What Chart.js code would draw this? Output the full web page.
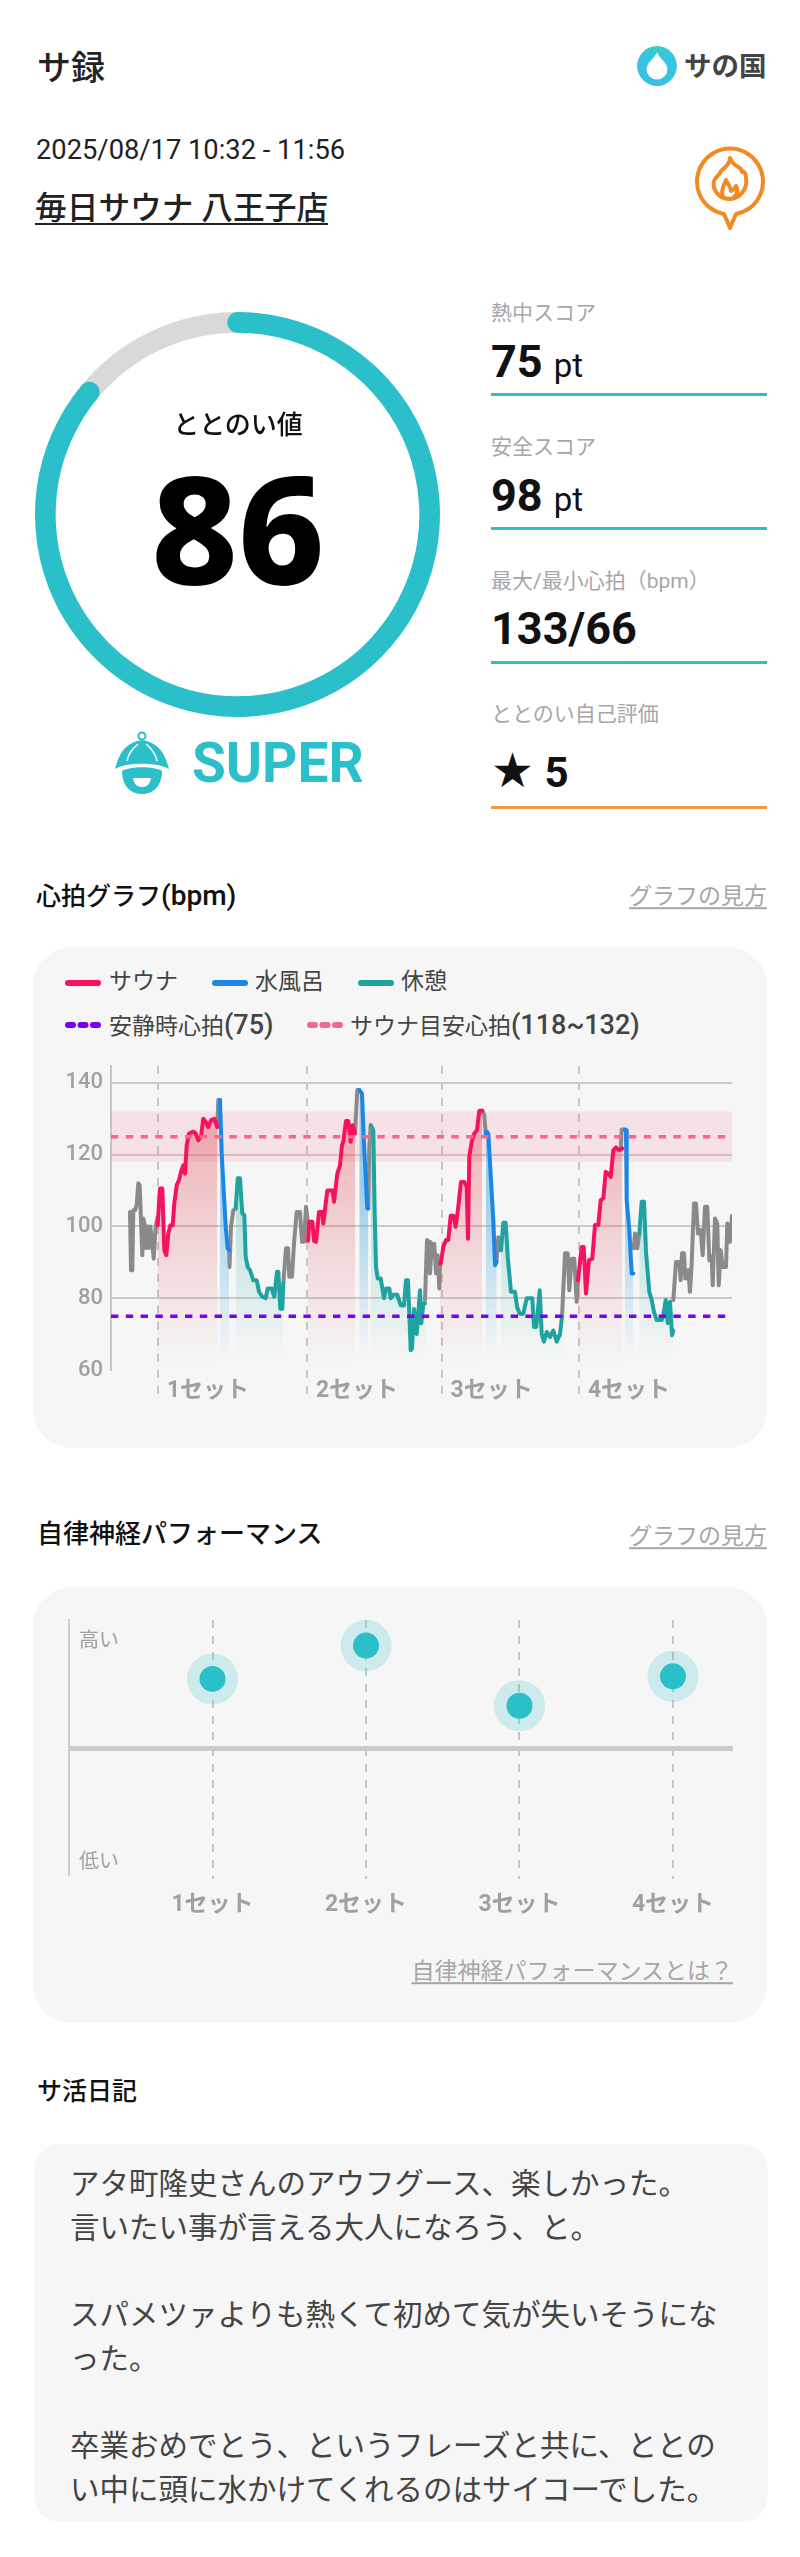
<!DOCTYPE html>
<html lang="ja"><head><meta charset="utf-8">
<script src="https://cdn.jsdelivr.net/npm/chart.js@4"></script>
<style>
html,body{margin:0;padding:0;background:#fff}
body{position:relative;width:800px;height:2557px;overflow:hidden;font-family:Roboto,"Noto Sans CJK JP",sans-serif;color:#222}
.t{position:absolute;white-space:nowrap;transform:translateY(-50%);line-height:1.2}
.g{color:#a6a6a6}
.r{transform:translate(-100%,-50%)}
.c{transform:translate(-50%,-50%)}
.link{color:#a6a6a6;text-decoration:underline;text-underline-offset:3px}
.card{position:absolute;background:#f6f6f6}
.rule{position:absolute;left:491px;width:276px;height:2.5px;background:#2fbdc6}
.sw{position:absolute;height:6px;width:36px;border-radius:3px}
.lat{font-size:27px;font-weight:500}
canvas{position:absolute}
svg{position:absolute;overflow:visible}
</style></head><body>
<div class="t" style="left:37px;top:68px;font-size:34px;font-weight:500">サ録</div>
<svg style="left:635px;top:44px" width="44" height="44" viewBox="0 0 42 42">
 <defs><linearGradient id="dr" x1="0" y1="0" x2="0" y2="1"><stop offset="0" stop-color="#34cfc0"/><stop offset=".3" stop-color="#38c4e2"/><stop offset="1" stop-color="#38c0e6"/></linearGradient></defs>
 <circle cx="21" cy="21" r="19" fill="url(#dr)"/>
 <path d="M21 8 C24 14 31 18 31 24 A10 10 0 0 1 11 24 C11 18 18 14 21 8Z" fill="#fff"/>
</svg>
<div class="t" style="left:684px;top:66px;font-size:27.5px;font-weight:700;color:#444">サの国</div>
<div class="t" style="left:36px;top:150px;font-size:27.3px;color:#222">2025/08/17 10:32 - 11:56</div>
<div class="t" style="left:35px;top:209px;font-size:31.7px;font-weight:500;text-decoration:underline;text-underline-offset:4px;text-decoration-thickness:2px">毎日サウナ 八王子店</div>
<svg style="left:694px;top:144px" width="72" height="90" viewBox="0 0 72 90" fill="none" stroke="#f08a22" stroke-width="4" stroke-linejoin="round" stroke-linecap="round">
 <path d="M30 70 A33 33 0 1 1 42 70 L36 84 Z" fill="#fff"/>
 <path d="M36 14 C40 24 48 22 48 28 C50 26 52 30 52 34 C54 44 46 55 36 55 C25 55 18 46 20 37 C22 32 26 31 27 27 C31 24 36 20 36 14Z"/>
 <path d="M29 53 C26 45 31 40 32 36 C35 41 37 46 37 47 C40 46 41 43 42 42 C45 47 42 52 39 54"/>
</svg>

<canvas id="gauge" width="405" height="405" style="left:35px;top:311.5px;width:405px;height:405px"></canvas>
<div class="t c" style="left:238px;top:426px;font-size:26px;font-weight:500;color:#111">ととのい値</div>
<div class="t c" style="left:238px;top:527px;font-size:150px;font-weight:800;font-family:'Noto Sans';color:#000;line-height:1">86</div>
<svg style="left:114px;top:731px" width="56" height="64" viewBox="0 0 56 64" fill="#2bbfca">
 <circle cx="28" cy="5" r="3.5" fill="none" stroke="#2bbfca" stroke-width="2"/>
 <path d="M1 38 C5 22 12 11 28 9 C44 11 51 22 55 38 C44 31 12 31 1 38Z"/>
 <path d="M8 40 C16 35 40 35 48 40 C48 54 40 63 28 63 C16 63 8 54 8 40Z"/>
 <path d="M19 47 L37 47 C36 54 32 56 28 56 C24 56 20 54 19 47Z" fill="#fff"/>
 <path d="M24 13 C18 18 14 24 13 30 M32 13 C38 18 42 24 43 30" fill="none" stroke="#fff" stroke-width="1.6"/>
</svg>
<div class="t" style="left:192px;top:763px;font-size:55px;font-weight:700;color:#2bbfca">SUPER</div>

<div class="t g" style="left:491px;top:314px;font-size:21px">熱中スコア</div>
<div class="t" style="left:491px;top:362px;font-size:45px;font-weight:700;color:#111">75 <span style="font-size:33px;font-weight:400">pt</span></div>
<div class="rule" style="top:393px"></div>
<div class="t g" style="left:491px;top:448px;font-size:21px">安全スコア</div>
<div class="t" style="left:491px;top:496px;font-size:45px;font-weight:700;color:#111">98 <span style="font-size:33px;font-weight:400">pt</span></div>
<div class="rule" style="top:527px"></div>
<div class="t g" style="left:491px;top:582px;font-size:21px">最大/最小心拍（bpm）</div>
<div class="t" style="left:491px;top:629px;font-size:45px;font-weight:700;color:#111">133/66</div>
<div class="rule" style="top:661px"></div>
<div class="t g" style="left:491px;top:715px;font-size:21px">ととのい自己評価</div>
<div class="t" style="left:491px;top:771px;font-size:42px;font-weight:700;color:#111"><span style="font-family:'DejaVu Sans';font-size:48px;font-weight:400">★</span> 5</div>
<div class="rule" style="top:806px;background:#f39a3e"></div>

<div class="t" style="left:36px;top:896px;font-size:25px;font-weight:500;color:#111">心拍グラフ<span style="font-size:28px">(bpm)</span></div>
<div class="t link r" style="left:767px;top:897px;font-size:23px">グラフの見方</div>
<div class="card" style="left:33px;top:947px;width:734px;height:501px;border-radius:38px"></div>
<div class="sw" style="left:65px;top:980px;background:#f5135f"></div>
<div class="t" style="left:109px;top:982px;font-size:23px;color:#444">サウナ</div>
<div class="sw" style="left:212px;top:980px;background:#1b86e6"></div>
<div class="t" style="left:255px;top:982px;font-size:23px;color:#444">水風呂</div>
<div class="sw" style="left:358px;top:980px;background:#1fa3a0"></div>
<div class="t" style="left:401px;top:982px;font-size:23px;color:#444">休憩</div>
<svg style="left:65px;top:1022px" width="36" height="6"><line x1="3" y1="3" x2="33" y2="3" stroke="#7a00f0" stroke-width="6" stroke-linecap="round" stroke-dasharray="5 7.5"/></svg>
<div class="t" style="left:109px;top:1025px;font-size:23px;color:#444">安静時心拍<span class="lat">(75)</span></div>
<svg style="left:307px;top:1022px" width="36" height="6"><line x1="3" y1="3" x2="33" y2="3" stroke="#f4688f" stroke-width="6" stroke-linecap="round" stroke-dasharray="5 7.5"/></svg>
<div class="t" style="left:350px;top:1025px;font-size:23px;color:#444">サウナ目安心拍<span class="lat">(118~132)</span></div>
<canvas id="hr" width="700" height="354" style="left:40px;top:1056px;width:700px;height:354px"></canvas>

<div class="t" style="left:37px;top:1535px;font-size:26px;font-weight:500;color:#111">自律神経パフォーマンス</div>
<div class="t link r" style="left:767px;top:1537px;font-size:23px">グラフの見方</div>
<div class="card" style="left:33px;top:1587px;width:734px;height:436px;border-radius:38px"></div>
<canvas id="perf" width="684" height="314" style="left:59px;top:1609.5px;width:684px;height:314px"></canvas>
<div class="t link r" style="left:733px;top:1972px;font-size:23px">自律神経パフォーマンスとは？</div>

<div class="t" style="left:37px;top:2092px;font-size:25px;font-weight:500;color:#111">サ活日記</div>
<div class="card" style="left:34px;top:2144px;width:734px;height:378px;border-radius:26px"></div>
<div style="position:absolute;left:70px;top:2163px;font-size:29.5px;line-height:43.7px;color:#444;white-space:nowrap">アタ町隆史さんのアウフグース、楽しかった。<br>言いたい事が言える大人になろう、と。<br><br>スパメツァよりも熱くて初めて気が失いそうにな<br>った。<br><br>卒業おめでとう、というフレーズと共に、ととの<br>い中に頭に水かけてくれるのはサイコーでした。</div>

<script>
// ---- gauge ----
const gaugeValue = [86, 14];
// ---- heart-rate chart (x: elapsed sample ticks, y: bpm) ----
const hrTickRange = [0, 621];
const hrTickValues = [60, 80, 100, 120, 140];
const setTicks = [47, 196, 330.7, 468];
const setLabels = ['1セット', '2セット', '3セット', '4セット'];
const restingBpm = 75;
const targetMidBpm = 125;
const targetBand = [118, 132];
const idleTicks = [
 [19,20,21.3,22.3,24,25.7,27.3,28.7,30,31.3,32.3,34,35,36.7,38,39.3,40.7,42.7,44.7,46.7],
 [106.3,107.3,109],
 [118,118.5,120,122.3,124.7],
 [172.3,175,177,178.3,181,183,185.7,189,191,193,195,197],
 [244,246.3,248.3],
 [257.3,258.3,259.7],
 [314,316,318,319,321,323.3,325,326.7,328.3,329],
 [371.3,373.3,374.7],
 [385.7,387.3,390],
 [451,454,456.7,458.3,460.7,463.3,465.7,467],
 [509.7,510.7,514],
 [522.7,524,526.3,528.3],
 [562.3,565,568.3,569.7,571,573,574.3,577.3,579,580.7,583,585,587,589.7,591.7,594,596.3,598.3,600.7,601.7,604,606.3,607.7,609.7,611.7,615,616.3,619,621]
];
const idleBpm = [
 [104,87.8,87.8,104.5,104.5,106,112,111.5,101.7,92,102.2,100,94,100,94,100,97,91,100,102.7],
 [127.7,135.2,135.2],
 [93.4,88.7,100,104.5,105],
 [84,93.9,93.9,86,86,95.2,104,104,95.7,95.7,105.5,100.8],
 [125.9,138,138],
 [105,122.2,128.2],
 [79.5,96.2,95.7,86.9,95.2,95.2,86.9,92,82.7,89.7],
 [132.2,131,125.9],
 [90.6,97,93.4],
 [74.8,92.5,92.5,82.2,91,91,79,85],
 [121.5,127,127],
 [93.9,98,93.9,98],
 [79.5,90.1,90.1,85,92.5,92.5,85.5,87.8,81.8,89.7,106.4,106.4,98,99,92,105.5,105.5,90.6,91.5,83.6,102.2,100.8,83.6,93.4,88.7,88.7,100.8,95.7,103]
];
const saunaTicks = [
 [46.7,49,51.3,53.3,55.3,57.3,59.3,61.7,63.3,65.7,68,70,72.3,74,75.7,78,82.3,84.7,87.3,90,92.3,95,97.3,100,103.3,106.3],
 [197,198.3,201.3,203,205,208,211.3,212.3,216.3,221.7,223,226.3,229,231,232.3,235,237.3,239.7,241.7,244],
 [329,330,332.3,335,337.3,339.7,342.3,344.7,347.3,350,353.3,355.7,357,358.3,360.7,363.3,366,368.3,371.3],
 [467,470.7,472.7,475,478,481.3,484,487.3,489.7,492.3,494.7,497.3,499.7,502.3,505,508.3,511.3]
];
const saunaBpm = [
 [100.3,110.6,110.6,93.4,92,98,100.3,100.3,106.4,111.5,112.9,115.2,117,114.7,122.6,125.9,126.4,125.9,124,125,130,129,127.7,129.6,130,127.7],
 [96,101.3,101.3,96,95.7,104,104,100.8,110,110,106.9,114.7,117,122.6,123.6,129.4,129.4,123.6,128.2,125.9],
 [89.7,90,94.3,96.2,96.2,103,103,99.9,105.5,112.4,112.4,111,96.6,119.4,123.6,125.9,126.8,132.2,132.2],
 [85,94.3,94.3,81.3,90.6,91,100.4,100.4,107.3,107.8,115.2,114.7,113.8,121.2,122,121.2,121.7]
];
const waterTicks = [
 [109,109.7,110.7,112.7,114.7,116.7,118],
 [248.3,251,253,255,256.3,257.3],
 [374.7,375.7,377.3,380,382.3,384,385.7],
 [514,515,515.7,518.3,520.7,522.3]
];
const waterBpm = [
 [135.2,135.2,120.3,110,100,93.9,93.4],
 [138,137,123,112,105,105],
 [125.9,126.4,125.9,112.9,101.7,89.2,90.1],
 [127,126.8,107.3,99,86.9,86.9]
];
const restTicks = [
 [124.7,126.7,129,131.3,133.3,134.7,136.7,139,142.3,145.7,148,151.3,154.7,156.7,160.7,163.3,166,167.3,169.3,171.3,172.3],
 [259.7,262.3,263.7,265,266.7,269.7,273,275,278.3,279.7,282.3,286.3,289.7,293,295,297,299.7,301,303,305.7,309,310.3,312.3,314],
 [390,392.3,394.7,396.7,400,404,406,408.7,412.3,415.7,421.3,423,425.3,428.7,430.7,433,435.7,439,442.3,445.7,449,451],
 [528.3,530.7,533,535,538.3,540.7,543,545.7,550.7,552.3,554.7,556.7,559,561,562.3]
];
const restBpm = [
 [105,113.4,113.4,103.6,103.2,91.5,88.7,87.8,85,85,81.8,80.4,80,82.7,82.7,80.4,87.4,87.4,77.1,77.1,84],
 [128.2,126.8,103.6,88.7,85.5,85.5,80,82.7,82.7,80,81,81,78,78,85,85,65.5,66,77,70,82.2,73,78.5,78.5],
 [93.4,101,101,91.5,81.8,81.8,77.6,75.7,75.7,80,80,72,72,82.2,70,67.9,70.6,69.2,71,67.9,70,74.8],
 [98,106.9,106.9,93,81.8,79.5,76.2,73.9,73.9,75.2,79.5,73,79,69.7,71]
];
// ---- autonomic performance chart ----
const perfSets = [1, 2, 3, 4];
const perfValues = [0.54, 0.80, 0.33, 0.56];
const perfRange = [0.065, 4.391];
const perfTickValues = [0.825, 0, -0.896];
const perfTickLabels = ['高い', '', '低い'];

const FONT = 'Roboto,"Noto Sans CJK JP",sans-serif';
const TEAL = '#2bbfca';

// gauge
const roundCaps = {
  id: 'roundCaps',
  afterDatasetsDraw(chart) {
    const a = chart.getDatasetMeta(0).data[0], c = chart.ctx;
    const mid = (a.innerRadius + a.outerRadius) / 2, r = (a.outerRadius - a.innerRadius) / 2;
    c.save(); c.fillStyle = TEAL;
    [a.startAngle, a.endAngle].forEach(ang => {
      c.beginPath(); c.arc(a.x + Math.cos(ang) * mid, a.y + Math.sin(ang) * mid, r, 0, Math.PI * 2); c.fill();
    });
    c.restore();
  }
};
new Chart(document.getElementById('gauge'), {
  type: 'doughnut',
  data: { labels: ['ととのい値', ''], datasets: [{ data: gaugeValue, backgroundColor: [TEAL, '#d9d9d9'], borderWidth: 0 }] },
  options: { responsive: false, animation: false, cutout: '89.8%', events: [],
    plugins: { legend: { display: false }, tooltip: { enabled: false } } },
  plugins: [roundCaps]
});

// heart-rate chart
function fade(rgb, top, loVal, hiVal) {
  return ctx => {
    const { chart } = ctx;
    if (!chart.chartArea) return 'transparent';
    const y = chart.scales.y;
    const g = chart.ctx.createLinearGradient(0, y.getPixelForValue(hiVal), 0, y.getPixelForValue(loVal));
    g.addColorStop(0, `rgba(${rgb},${top})`);
    g.addColorStop(1, `rgba(${rgb},0)`);
    return g;
  };
}
const pts = (ts, vs) => ts.map((t, i) => ({ x: t, y: vs[i] }));
const lineBase = { pointRadius: 0, borderJoinStyle: 'round', borderCapStyle: 'round', tension: 0, borderWidth: 4 };
const hrSets = [];
idleTicks.forEach((t, i) => hrSets.push({ ...lineBase, label: '', data: pts(t, idleBpm[i]), borderColor: '#8a8a8a', fill: false, order: 3 }));
saunaTicks.forEach((t, i) => hrSets.push({ ...lineBase, label: 'サウナ', data: pts(t, saunaBpm[i]), borderColor: '#f5135f', backgroundColor: fade('226,80,90', 0.42, 62, 132), fill: { value: 60 }, order: 2 }));
waterTicks.forEach((t, i) => hrSets.push({ ...lineBase, label: '水風呂', data: pts(t, waterBpm[i]), borderColor: '#1b86e6', backgroundColor: fade('100,180,225', 0.6, 63, 110), fill: { value: 60 }, order: 2 }));
restTicks.forEach((t, i) => hrSets.push({ ...lineBase, label: '休憩', data: pts(t, restBpm[i]), borderColor: '#1fa3a0', backgroundColor: fade('90,195,185', 0.42, 63, 110), fill: { value: 60 }, order: 2 }));
const flat = (v, endTick) => [{ x: hrTickRange[0], y: v }, { x: endTick, y: v }];
hrSets.push({ label: '', data: flat(restingBpm, 616), borderColor: '#7a00f0', borderWidth: 3.5, borderDash: [7.4, 7.4], pointRadius: 0, fill: false, order: 0 });
hrSets.push({ label: '', data: flat(targetMidBpm, 616), borderColor: '#f4688f', borderWidth: 3.5, borderDash: [7.4, 7.4], pointRadius: 0, fill: false, order: 1 });
hrSets.push({ label: '', data: flat(targetBand[1], hrTickRange[1]), borderWidth: 0, pointRadius: 0, fill: '+1', backgroundColor: 'rgba(245,140,165,0.19)', order: 9 });
hrSets.push({ label: '', data: flat(targetBand[0], hrTickRange[1]), borderWidth: 0, pointRadius: 0, fill: false, order: 9 });

new Chart(document.getElementById('hr'), {
  type: 'line',
  data: { datasets: hrSets },
  options: {
    responsive: false, animation: false, events: [],
    layout: { autoPadding: false, padding: { top: 10, right: 8, left: 0, bottom: 0 } },
    plugins: { legend: { display: false }, tooltip: { enabled: false } },
    scales: {
      x: { type: 'linear', min: hrTickRange[0], max: hrTickRange[1],
        afterBuildTicks: s => { s.ticks = setTicks.map(v => ({ value: v })); },
        afterFit: s => { s.height = 40; s.paddingLeft = 0; s.paddingRight = 0; },
        border: { display: false, dash: [8, 8] },
        grid: { color: '#c6c6c6', lineWidth: 2, tickLength: 30, tickColor: '#c6c6c6', tickWidth: 2, tickBorderDash: [8, 8] },
        ticks: { autoSkip: false, maxRotation: 0, padding: -23, labelOffset: 50, color: '#a0a0a0',
          font: { family: FONT, size: 23, weight: '700' },
          callback: (v, i) => setLabels[i] } },
      y: { min: hrTickValues[0], max: 144.7,
        afterBuildTicks: s => { s.ticks = hrTickValues.map(v => ({ value: v })); },
        afterFit: s => { s.width = 71; s.paddingTop = 0; s.paddingBottom = 0; },
        border: { display: true, color: '#c6c6c6', width: 2 },
        grid: { lineWidth: 2, drawTicks: false, color: c => c.tick && c.tick.value === hrTickValues[0] ? 'transparent' : '#c9c9c9' },
        ticks: { padding: 8, color: '#a0a0a0', font: { family: FONT, size: 22, weight: '500' } } }
    }
  }
});

// autonomic performance
const perfPts = perfSets.map((s, i) => ({ x: s, y: perfValues[i] }));
new Chart(document.getElementById('perf'), {
  type: 'scatter',
  data: { datasets: [
    { data: perfPts, pointRadius: 13, pointBackgroundColor: TEAL, pointBorderWidth: 0, order: 0 },
    { data: perfPts, pointRadius: 25.5, pointBackgroundColor: 'rgba(43,191,202,0.2)', pointBorderWidth: 0, order: 1 }
  ] },
  options: {
    responsive: false, animation: false, events: [],
    layout: { autoPadding: false, padding: { top: 10, right: 10, left: 10, bottom: 0 } },
    plugins: { legend: { display: false }, tooltip: { enabled: false } },
    scales: {
      x: { type: 'linear', min: perfRange[0], max: perfRange[1],
        afterBuildTicks: s => { s.ticks = perfSets.map(v => ({ value: v })); },
        afterFit: s => { s.height = 48; s.paddingLeft = 0; s.paddingRight = 0; },
        border: { display: false, dash: [8, 8] },
        grid: { color: '#c6c6c6', lineWidth: 2, tickLength: 3, tickColor: '#c6c6c6', tickWidth: 2 },
        ticks: { autoSkip: false, maxRotation: 0, padding: 12, color: '#a0a0a0',
          font: { family: FONT, size: 23, weight: '700' },
          callback: (v, i) => setLabels[i] } },
      y: { min: -1, max: 1,
        afterBuildTicks: s => { s.ticks = perfTickValues.map(v => ({ value: v })); },
        afterFit: s => { s.width = 0; s.paddingTop = 0; s.paddingBottom = 0; },
        border: { display: true, color: '#cdcdcd', width: 2 },
        grid: { drawTicks: false, lineWidth: c => c.tick && c.tick.value === 0 ? 5 : 0, color: '#cbcbcb' },
        ticks: { mirror: true, padding: 10, color: '#a0a0a0', font: { family: FONT, size: 20 },
          callback: (v, i) => perfTickLabels[i] } }
    }
  }
});
</script>
</body></html>
